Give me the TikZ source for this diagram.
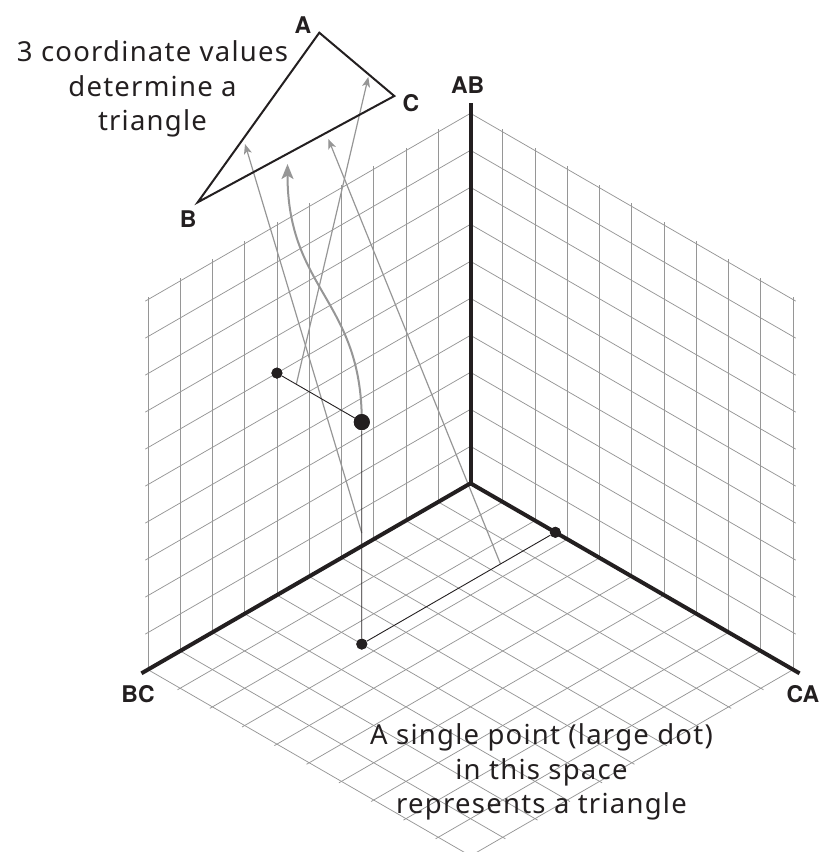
\documentclass[tikz,border=0pt]{standalone}
\usepackage{fontspec}
\setmainfont{Noto Sans}
\newfontfamily\notefont{Noto Sans}[LetterSpace=4.5]
\newfontfamily\labelfont{TeX Gyre Heros}
\usetikzlibrary{arrows.meta}
\definecolor{inkdark}{RGB}{35,31,32}
\definecolor{gridgrey}{RGB}{150,150,150}
\definecolor{tracegrey}{RGB}{150,150,150}

\begin{document}
\begin{tikzpicture}[
    x=1pt,
    y=-1pt,
    grid line/.style={
      gridgrey,
      line width=0.75pt,
      shorten >=-3pt
    },
    axis line/.style={
      inkdark,
      line width=4pt
    },
    drop line/.style={
      inkdark,
      line width=0.9pt
    },
    trace thin/.style={
      tracegrey,
      line width=1.2pt,
      -{Stealth[length=10pt,width=8pt,inset=2.5pt]}
    },
    trace thick/.style={
      tracegrey,
      line width=2pt,
      -{Stealth[length=15pt,width=12pt,inset=3.5pt]}
    },
    coord dot/.style={
      circle,
      fill=inkdark,
      inner sep=0pt,
      minimum size=11pt
    },
    point dot/.style={
      circle,
      fill=inkdark,
      inner sep=0pt,
      minimum size=16pt
    },
    axis label/.style={
      font=\fontsize{23}{23}\selectfont\labelfont\bfseries,
      text=inkdark
    },
    note/.style={
      font=\fontsize{27.5}{34.5}\selectfont\notefont,
      text=inkdark,
      align=center
    }
]

\useasboundingbox (0,0) rectangle (822,852);

% Isometric frame: x runs along CA, y along BC, z along AB.
\begin{scope}[
    shift={(470.5,483.3)},
    x={(32.26pt,-18.63pt)},
    y={(-32.26pt,-18.63pt)},
    z={(0pt,37pt)}
]

% Floor and the two walls.
\foreach \i in {1,...,10}{
  \draw[grid line] (\i,0,0) -- (\i,10,0);
  \draw[grid line] (0,\i,0) -- (10,\i,0);
  \draw[grid line] (0,\i,0) -- (0,\i,10);
  \draw[grid line] (0,0,\i) -- (0,10,\i);
  \draw[grid line] (\i,0,0) -- (\i,0,10);
  \draw[grid line] (0,0,\i) -- (10,0,\i);
}

\coordinate (O) at (0,0,0);
\coordinate (AB end) at (0,0,10.27);
\coordinate (BC end) at (0,10.2,0);
\coordinate (CA end) at (10.2,0,0);

% Start points of the traces on the projection lines.
\coordinate (s1) at (2.63,6,3);
\coordinate (s2) at (0.6,6,6);
\coordinate (s3) at (2.63,1.7,0);

\node[coord dot] (wall) at (0,6,6) {};
\node[point dot] (big) at (2.63,6,6) {};
\node[coord dot] (floor) at (2.63,6,0) {};
\node[coord dot] (caxis) at (2.63,0,0) {};

\end{scope}

% Triangle and the end points of the traces.
\coordinate (A) at (319.3,32.7);
\coordinate (B) at (197.7,202.3);
\coordinate (C) at (394.3,96);

\coordinate (t1) at (245,144);
\coordinate (t2) at (368.3,77);
\coordinate (t3) at (328.3,139);
\coordinate (t4) at (287.5,164);

\draw[trace thin] (s1) -- (t1);
\draw[trace thin] (s2) -- (t2);
\draw[trace thin] (s3) -- (t3);
\draw[trace thick] (big.center) .. controls (362,300) and (287.5,290) .. (t4);

\draw[drop line] (wall) -- (big) -- (floor) -- (caxis);
\node[coord dot] at (wall) {};
\node[point dot] at (big) {};
\node[coord dot] at (floor) {};
\node[coord dot] at (caxis) {};

\draw[axis line] (BC end) -- (O) -- (CA end);
\draw[axis line] (O) -- (AB end);

\draw[inkdark,line width=2pt,line join=miter] (A) -- (C) -- (B) -- cycle;

% Labels.
\node[axis label] (AB label) at (467.7,85) {AB};
\node[axis label] (BC label) at (138,694) {BC};
\node[axis label] (CA label) at (803,694) {CA};
\node[axis label] (A label) at (303,25.5) {A};
\node[axis label] (B label) at (188.3,219) {B};
\node[axis label] (C label) at (411,103) {C};

\node[note] (howto) at (152.5,89) {3 coordinate values\\determine a\\triangle};
\node[note] (meaning) at (541.5,772) {A single point (large dot)\\in this space\\represents a triangle};

\end{tikzpicture}
\end{document}
